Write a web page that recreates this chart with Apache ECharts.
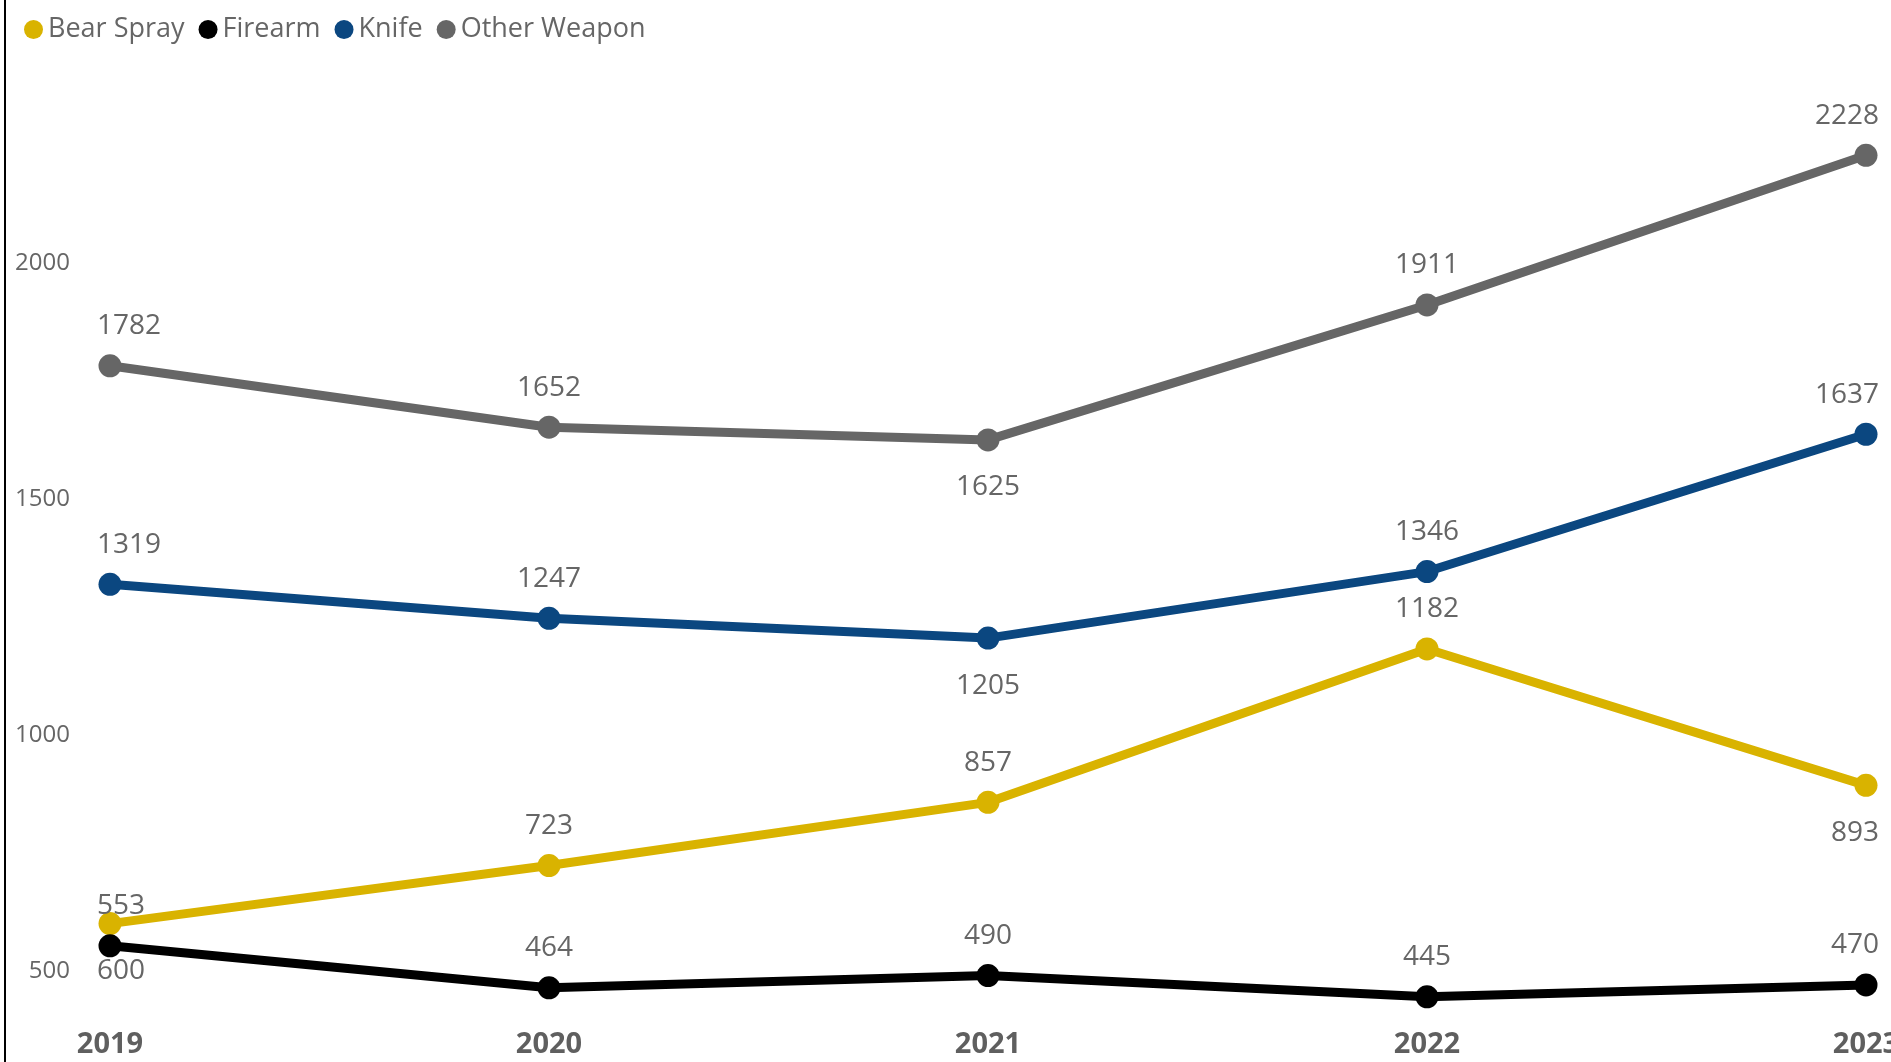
<!DOCTYPE html>
<html>
<head>
    <meta charset="utf-8">
    <title>Weapon incidents</title>
    <script src="https://cdn.jsdelivr.net/npm/echarts@6/dist/echarts.min.js"></script>
    <style>
        html, body { margin: 0; padding: 0; background: #fff; }
    </style>
</head>
<body>
    <div id="main" style="width: 1891px;height:1062px;"></div>
    <script type="text/javascript">
        // data
        var years = ['2019', '2020', '2021', '2022', '2023'];
        var bearSpray = [600, 723, 857, 1182, 893];
        var firearm = [553, 464, 490, 445, 470];
        var knife = [1319, 1247, 1205, 1346, 1637];
        var otherWeapon = [1782, 1652, 1625, 1911, 2228];
        var yTicks = [500, 1000, 1500, 2000];

        var font = '"Segoe UI", "Open Sans", "Noto Sans", sans-serif';
        var labelGrey = '#666666';

        // belowIdx: point labels that sit under the marker instead of above
        function makeSeries(name, values, color, belowIdx) {
            var last = values.length - 1;
            return {
                name: name,
                type: 'line',
                data: values.map(function (v, i) {
                    var lab = {};
                    if (belowIdx.indexOf(i) >= 0) {
                        lab.position = 'bottom';
                        lab.distance = 22;
                    }
                    // end labels are kept inside the plot, like the original
                    if (i === 0) {
                        lab.align = 'left';
                        lab.offset = [-13, 0];
                    }
                    if (i === last) {
                        lab.align = 'right';
                        lab.offset = [13, 0];
                    }
                    return { value: v, label: lab };
                }),
                symbol: 'circle',
                symbolSize: 23,
                lineStyle: { width: 9, color: color },
                itemStyle: { color: color },
                label: {
                    show: true,
                    position: 'top',
                    distance: 14,
                    color: labelGrey,
                    fontFamily: font,
                    fontSize: 28
                },
                emphasis: { disabled: true }
            };
        }

        var myChart = echarts.init(document.getElementById('main'));

        var option = {
            animation: false,
            backgroundColor: '#ffffff',
            legend: {
                left: 19,
                top: 11,
                icon: 'circle',
                itemWidth: 19,
                itemHeight: 19,
                itemGap: 14,
                textStyle: { color: labelGrey, fontFamily: font, fontSize: 27 }
            },
            grid: { left: 110, right: 25, top: 27, bottom: 44, outerBoundsMode: 'none' },
            xAxis: {
                type: 'category',
                data: years,
                boundaryGap: false,
                axisLine: { show: false },
                axisTick: { show: false },
                axisLabel: {
                    margin: 12,
                    color: '#5f5f5f',
                    fontFamily: font,
                    fontWeight: 'bold',
                    fontSize: 29
                }
            },
            yAxis: {
                type: 'value',
                min: 400,
                max: 2500,
                interval: 100,
                splitLine: { show: false },
                axisLine: { show: false },
                axisTick: { show: false },
                axisLabel: {
                    margin: 40,
                    color: labelGrey,
                    fontFamily: font,
                    fontSize: 24,
                    formatter: function (v) {
                        return yTicks.indexOf(v) >= 0 ? String(v) : '';
                    }
                }
            },
            graphic: [{
                type: 'rect',
                shape: { x: 4, y: 0, width: 2, height: 1062 },
                style: { fill: '#000000' }
            }],
            series: [
                makeSeries('Bear Spray', bearSpray, '#D9B300', [0, 4]),
                makeSeries('Firearm', firearm, '#000000', []),
                makeSeries('Knife', knife, '#0B4780', [2]),
                makeSeries('Other Weapon', otherWeapon, '#666666', [2])
            ]
        };

        myChart.setOption(option);
    </script>
</body>
</html>
